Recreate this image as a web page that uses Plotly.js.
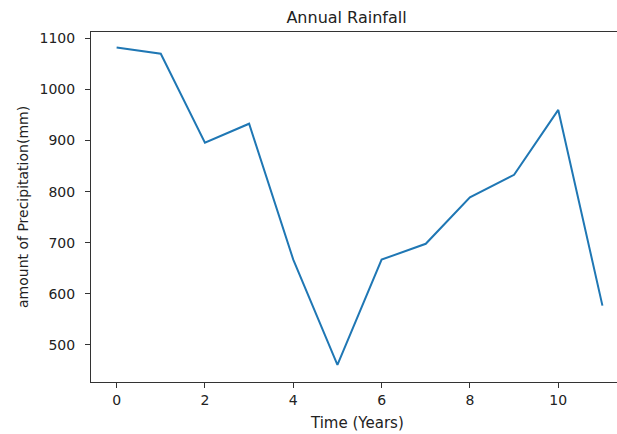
<!DOCTYPE html>
<html>
<head>
<meta charset="utf-8">
<script src="https://cdn.plot.ly/plotly-3.0.1.min.js"></script>
<style>html,body{margin:0;padding:0;background:#fff;}#chart{width:617px;height:434px;}</style>
</head>
<body>
<div id="chart"></div>
<script>
var years = [0, 1, 2, 3, 4, 5, 6, 7, 8, 9, 10, 11];
var rainfall = [1082, 1070, 896, 933, 667, 461, 667, 698, 789, 833, 960, 577];
var xTicks = [0, 2, 4, 6, 8, 10];
var yTicks = [500, 600, 700, 800, 900, 1000, 1100];

var trace = {
  x: years,
  y: rainfall,
  type: 'scatter',
  mode: 'lines',
  line: {color: '#1f77b4', width: 2},
  hoverinfo: 'none'
};

var fontFam = 'DejaVu Sans, sans-serif';
var layout = {
  width: 617,
  height: 434,
  margin: {l: 91, r: 0, t: 32, b: 52, pad: 0},
  paper_bgcolor: '#fff',
  plot_bgcolor: '#fff',
  showlegend: false,
  font: {family: fontFam, color: '#222'},
  title: {
    text: 'Annual Rainfall',
    font: {family: fontFam, size: 16, color: '#222'},
    x: (346.5 - 91) / 526, xref: 'paper', xanchor: 'center',
    y: 1 - 17 / 434, yref: 'container', yanchor: 'middle'
  },
  xaxis: {
    range: [-0.58, 11.33],
    tickvals: xTicks,
    ticktext: xTicks.map(String),
    ticks: 'outside', ticklen: 5, tickwidth: 1, tickcolor: '#333',
    showline: true, linecolor: '#333', linewidth: 1, mirror: true,
    showgrid: false, zeroline: false,
    tickfont: {family: fontFam, size: 14, color: '#222'},
    automargin: false
  },
  yaxis: {
    range: [427.5, 1112.5],
    tickvals: yTicks,
    ticktext: yTicks.map(String),
    ticks: 'outside', ticklen: 5, tickwidth: 1, tickcolor: '#333',
    showline: true, linecolor: '#333', linewidth: 1, mirror: false,
    showgrid: false, zeroline: false,
    ticklabelstandoff: 7,
    tickfont: {family: fontFam, size: 14, color: '#222'},
    automargin: false
  },
  annotations: [
    {
      text: 'Time (Years)', showarrow: false,
      xref: 'paper', yref: 'paper',
      x: (357 - 91) / 526, y: -(423 - 382) / 350,
      xanchor: 'center', yanchor: 'middle',
      font: {family: fontFam, size: 15, color: '#222'}
    },
    {
      text: 'amount of Precipitation(mm)', showarrow: false,
      xref: 'paper', yref: 'paper', textangle: -90,
      x: (23 - 91) / 526, y: 0.5,
      xanchor: 'center', yanchor: 'middle',
      font: {family: fontFam, size: 14, color: '#222'}
    }
  ]
};

Plotly.newPlot('chart', [trace], layout, {displayModeBar: false, staticPlot: true});
</script>
</body>
</html>
